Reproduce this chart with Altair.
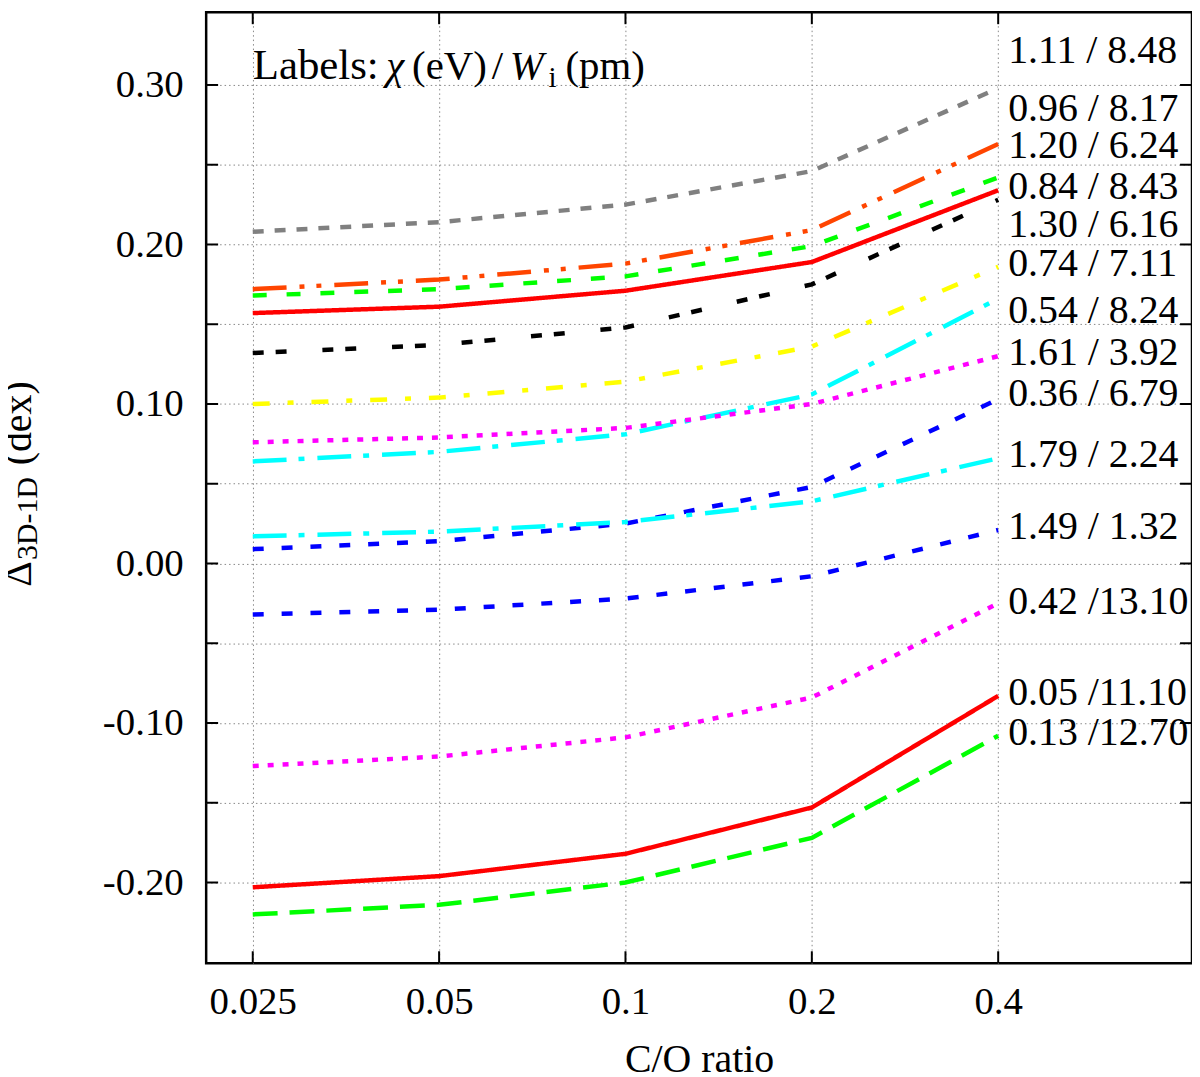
import altair as alt
import pandas as pd

# C/O ratio categories on the x axis
co_ratio = ["0.025", "0.05", "0.1", "0.2", "0.4"]

# line labels: chi (eV) / W_i (pm)
line_labels = ["1.11 / 8.48", "0.96 / 8.17", "1.20 / 6.24", "0.84 / 8.43", "1.30 / 6.16",
               "0.74 / 7.11", "0.54 / 8.24", "1.61 / 3.92", "0.36 / 6.79", "1.79 / 2.24",
               "1.49 / 1.32", "0.42 /13.10", "0.05 /11.10", "0.13 /12.70"]

# Delta 3D-1D (dex) per line, one value per C/O ratio
d_111 = [0.208, 0.214, 0.225, 0.246, 0.298]
d_096 = [0.172, 0.178, 0.188, 0.209, 0.263]
d_120 = [0.168, 0.172, 0.180, 0.199, 0.242]
d_084 = [0.157, 0.161, 0.171, 0.189, 0.234]
d_130 = [0.132, 0.137, 0.148, 0.175, 0.228]
d_074 = [0.100, 0.104, 0.114, 0.136, 0.186]
d_054 = [0.064, 0.070, 0.081, 0.106, 0.166]
d_161 = [0.076, 0.079, 0.085, 0.100, 0.130]
d_036 = [0.009, 0.014, 0.025, 0.048, 0.103]
d_179 = [0.017, 0.020, 0.026, 0.039, 0.066]
d_149 = [-0.032, -0.029, -0.022, -0.008, 0.021]
d_042 = [-0.127, -0.121, -0.109, -0.084, -0.025]
d_005 = [-0.203, -0.196, -0.182, -0.153, -0.083]
d_013 = [-0.220, -0.214, -0.200, -0.172, -0.108]

series = [d_111, d_096, d_120, d_084, d_130, d_074, d_054,
          d_161, d_036, d_179, d_149, d_042, d_005, d_013]

# where each label sits on the right-hand side (dex)
label_y = [0.321, 0.285, 0.262, 0.236, 0.212, 0.188, 0.158,
           0.132, 0.106, 0.068, 0.023, -0.024, -0.081, -0.106]

y_grid = [-0.20, -0.15, -0.10, -0.05, 0.00, 0.05, 0.10, 0.15, 0.20, 0.25, 0.30]

line_colors = ["#808080", "#ff4500", "#00ff00", "#ff0000", "#000000", "#ffff00", "#00ffff",
               "#ff00ff", "#0000ff", "#00ffff", "#0000ff", "#ff00ff", "#ff0000", "#00ff00"]
line_dashes = [[11, 11], [34, 13, 5, 12, 5, 13], [14, 20], [1, 0], [11, 12, 11, 36],
               [17, 18, 6, 18], [34, 12, 6, 13], [6, 9], [11, 18], [34, 12, 6, 13],
               [11, 18], [6, 9], [1, 0], [25, 12]]

FONT = "Liberation Serif"
W, H = 990, 955

rows = []
for lab, vals in zip(line_labels, series):
    for i, v in enumerate(vals):
        rows.append({"series": lab, "x": i, "y": v})
lines_df = pd.DataFrame(rows)
labels_df = pd.DataFrame({"label": line_labels, "x": len(co_ratio) - 1, "y": label_y})
xtick_df = pd.DataFrame({"x": list(range(len(co_ratio)))})
ytick_df = pd.DataFrame({"y": y_grid})
one = pd.DataFrame({"x": [0], "y": [0.304]})

x_labels = "[" + ",".join("'%s'" % c for c in co_ratio) + "]"
x_enc = alt.X("x:Q", scale=alt.Scale(domain=[-0.25, 5.04], nice=False, zero=False),
              axis=alt.Axis(values=list(range(len(co_ratio))),
                            labelExpr=x_labels + "[datum.value]",
                            title="C/O ratio", titleY=109, titleBaseline="alphabetic"))
y_enc = alt.Y("y:Q", scale=alt.Scale(domain=[-0.2506, 0.3456], nice=False, zero=False),
              axis=alt.Axis(values=y_grid, title=None,
                            labelExpr="round(datum.value*100) % 10 == 0 ? "
                                      "replace(format(datum.value, '.2f'), '\u2212', '-') : ''"))

lines = alt.Chart(lines_df).mark_line(strokeWidth=4.5).encode(
    x=x_enc,
    y=y_enc,
    color=alt.Color("series:N", scale=alt.Scale(domain=line_labels, range=line_colors), legend=None),
    strokeDash=alt.StrokeDash("series:N", scale=alt.Scale(domain=line_labels, range=line_dashes),
                              legend=None),
)

labels = alt.Chart(labels_df).mark_text(
    align="left", baseline="middle", dx=10, fontSize=40, font=FONT, color="black"
).encode(x=x_enc, y=y_enc, text="label:N")


def heading_piece(txt, dx, size=41, style="normal", dy=0):
    return alt.Chart(one).mark_text(
        align="left", baseline="alphabetic", dx=dx, dy=dy, fontSize=size,
        font=FONT, fontStyle=style, color="black"
    ).encode(x=x_enc, y=y_enc, text=alt.value(txt))


heading = [
    heading_piece("Labels:", 0, size=43),
    heading_piece("\u03c7", 134, style="italic"),
    heading_piece("(eV)", 160),
    heading_piece("/", 240),
    heading_piece("W", 258, style="italic"),
    heading_piece("i", 297, size=29, dy=8),
    heading_piece("(pm)", 314),
]


def ytitle_piece(txt, px, py, size=40):
    return alt.Chart(one).mark_text(
        align="left", baseline="alphabetic", angle=270, fontSize=size, font=FONT, color="black"
    ).encode(x=alt.value(px), y=alt.value(py), text=alt.value(txt))


ytitle = [
    ytitle_piece("\u0394", -176, 577),
    ytitle_piece("3D-1D", -170, 550, size=30),
    ytitle_piece("(dex)", -176, 455),
]

# inward ticks on all four sides
TL = 12
tick_style = dict(color="black", strokeWidth=2)
ticks = [
    alt.Chart(ytick_df).mark_rule(**tick_style).encode(y=y_enc, x=alt.value(0), x2=alt.value(TL)),
    alt.Chart(ytick_df).mark_rule(**tick_style).encode(y=y_enc, x=alt.value(W), x2=alt.value(W - TL)),
    alt.Chart(xtick_df).mark_rule(**tick_style).encode(x=x_enc, y=alt.value(H), y2=alt.value(H - TL)),
    alt.Chart(xtick_df).mark_rule(**tick_style).encode(x=x_enc, y=alt.value(0), y2=alt.value(TL)),
]

chart = alt.layer(lines, labels, *heading, *ytitle, *ticks).properties(
    width=W,
    height=H,
    autosize=alt.AutoSizeParams(type="none"),
    padding={"left": 199, "top": 2, "right": 0, "bottom": 112},
).configure_view(
    stroke="black", strokeWidth=2.5
).configure_axis(
    domain=False, ticks=False, grid=True, gridColor="#888888", gridDash=[1.5, 3], gridWidth=1,
    labelFont=FONT, labelFontSize=39, labelColor="black",
    titleFont=FONT, titleFontSize=40, titleFontWeight="normal", titleColor="black",
).configure_axisX(
    labelPadding=19
).configure_axisY(
    labelPadding=23
)

chart.save("out.html", embed_options={"renderer": "svg", "actions": False})
